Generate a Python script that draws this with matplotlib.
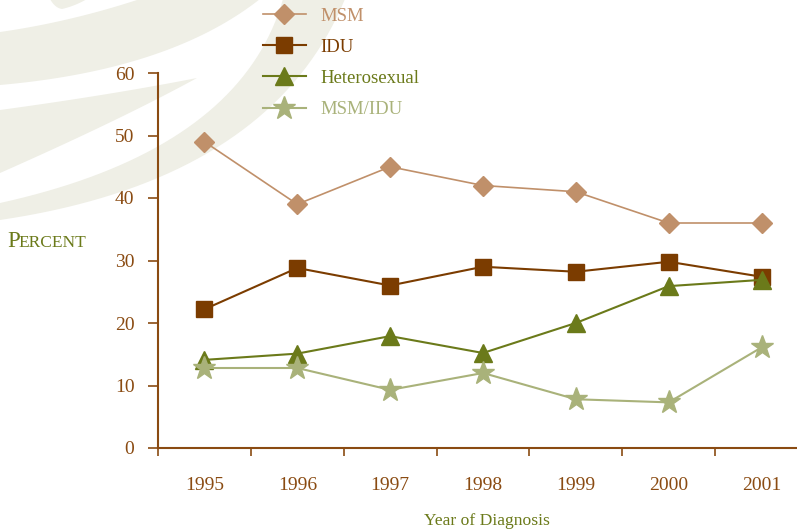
import numpy as np
import matplotlib.pyplot as plt

years = ['1995', '1996', '1997', '1998', '1999', '2000', '2001']
msm = [49, 39, 45, 42, 41, 36, 36]
idu = [22.2, 28.8, 26, 29, 28.2, 29.8, 27.4]
hetero = [14.1, 15.1, 17.9, 15.2, 20, 25.9, 26.9]
msm_idu = [12.8, 12.8, 9.3, 12, 7.8, 7.3, 16.1]

brown = '#8a4b12'
green = '#6b7a1a'
plt.rcParams['font.family'] = ['Liberation Serif', 'DejaVu Serif']

W, H = 797, 532
fig = plt.figure(figsize=(W / 100, H / 100), dpi=100)

# background swirl, pixel coords with y going down
bg = fig.add_axes([0, 0, 1, 1], zorder=0)
bg.set_xlim(0, W)
bg.set_ylim(H, 0)
bg.axis('off')

def bez(p0, p1, p2):
    t = np.linspace(0, 1, 40)[:, None]
    return (1 - t) ** 2 * np.array(p0) + 2 * t * (1 - t) * np.array(p1) + t ** 2 * np.array(p2)

def swirl(upper, lower):
    pts = np.vstack([bez(*upper), bez(*lower)])
    bg.fill(pts[:, 0], pts[:, 1], color='#efefe6', lw=0)

swirl([(0, 32), (70, 22), (140, -1)], [(260, -1), (170, 70), (0, 85)])
swirl([(0, 110), (110, 95), (197, 78)], [(197, 78), (120, 120), (0, 173)])
swirl([(0, 203), (240, 150), (283, -1)], [(345, -1), (270, 180), (0, 220)])
swirl([(50, -1), (55, 8), (62, 9)], [(62, 9), (75, 6), (87, -1)])

ax = fig.add_axes([158 / W, 84 / H, 650 / W, 375 / H], zorder=1)
ax.patch.set_alpha(0)
x = np.arange(len(years))

ax.plot(x, msm, color='#c0906a', lw=1.2, marker='D', ms=10, label='MSM', zorder=3)
ax.plot(x, idu, color='#7b3c00', lw=1.5, marker='s', ms=12, label='IDU', zorder=3)
ax.plot(x, hetero, color=green, lw=1.5, marker='^', ms=13, label='Heterosexual', zorder=4)
ax.plot(x, msm_idu, color='#a9b27a', lw=1.5, marker='*', ms=17, label='MSM/IDU', zorder=4)

ax.set_xlim(-0.5, 6.5)
ax.set_ylim(0, 60)
for s in ['top', 'right']:
    ax.spines[s].set_visible(False)
for s in ['left', 'bottom']:
    ax.spines[s].set_color(brown)
    ax.spines[s].set_linewidth(1.5)

ax.set_yticks(range(0, 61, 10))
ax.set_xticks(np.arange(-0.5, 6, 1))
ax.set_xticklabels([])
ax.set_xticks(x, minor=True)
ax.set_xticklabels(years, minor=True)
ax.tick_params(axis='y', colors=brown, length=7, width=1.2, pad=10, labelsize=14)
ax.tick_params(axis='x', which='major', colors=brown, length=6, width=1.2)
ax.tick_params(axis='x', which='minor', colors=brown, length=0, pad=21, labelsize=14)

fig.text(487 / W, 1 - 521 / H, 'Year of Diagnosis', color=green, fontsize=12.6,
         ha='center', va='center')
fig.text(7 / W, 1 - 247 / H, 'P', color=green, fontsize=16.5, ha='left', va='baseline')
fig.text(18.5 / W, 1 - 247 / H, 'ERCENT', color=green, fontsize=12.5, ha='left', va='baseline')

leg = ax.legend(loc='upper left', bbox_to_anchor=(255 / W, 1 - 0 / H),
                bbox_transform=fig.transFigure, frameon=False, fontsize=13.5,
                labelcolor='linecolor', handlelength=2.3, handletextpad=0.8,
                labelspacing=0.75, borderaxespad=0)

fig.savefig('out.png', dpi=100)
